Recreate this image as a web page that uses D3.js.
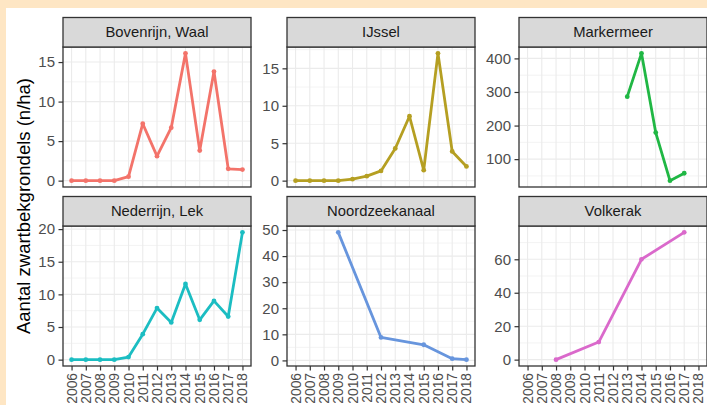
<!DOCTYPE html>
<html>
<head>
<meta charset="utf-8">
<script src="https://cdn.jsdelivr.net/npm/d3@7"></script>
<style>
  html, body { margin: 0; padding: 0; background: #FEE6C4; }
  svg { display: block; }
  text { font-family: "Liberation Sans", Arial, sans-serif; }
</style>
</head>
<body>
<svg id="chart" width="707" height="405"></svg>
<script>
// ---- data ----
const years = ["2006","2007","2008","2009","2010","2011","2012","2013","2014","2015","2016","2017","2018"];
const regions = ["Bovenrijn, Waal","IJssel","Markermeer","Nederrijn, Lek","Noordzeekanaal","Volkerak"];
const colors = ["#F3736A","#B59F22","#20B744","#1BBDC2","#6795DD","#DA69CB"];
const bovenrijnWaal  = [0, 0, 0, 0, 0.5, 7.2, 3.1, 6.7, 16.1, 3.8, 13.8, 1.5, 1.4];
const ijssel         = [0, 0, 0, 0, 0.2, 0.6, 1.3, 4.3, 8.6, 1.4, 17.0, 3.9, 1.9];
const markermeer     = [null, null, null, null, null, null, null, 286, 415, 179, 36, 58, null];
const nederrijnLek   = [0, 0, 0, 0, 0.4, 3.9, 7.9, 5.7, 11.6, 6.1, 9.0, 6.6, 19.5];
const noordzeekanaal = [null, null, null, 49.1, null, null, 8.8, null, null, 6.0, null, 0.65, 0.3];
const volkerak       = [null, null, 0, null, null, 10.5, null, null, 60, null, null, 76.1, null];
const yTicks = [[0,5,10,15],[0,5,10,15],[100,200,300,400],[0,5,10,15,20],[0,10,20,30,40,50],[0,20,40,60]];
const yTitle = "Aantal zwartbekgrondels (n/ha)";

const series = [bovenrijnWaal, ijssel, markermeer, nederrijnLek, noordzeekanaal, volkerak];

// ---- layout ----
const W = 707, H = 405;
const colLeft = [63, 287, 519];
const panelW = 188;
const panelTop = [47, 226];
const panelH = 140;
const stripH = 29.5;

const svg = d3.select("#chart");
svg.append("rect").attr("x", 6).attr("y", 8).attr("width", W - 6).attr("height", H - 8).attr("fill", "#FFFFFF");

regions.forEach((name, i) => {
  const col = i % 3, row = Math.floor(i / 3);
  const x0 = colLeft[col], y0 = panelTop[row];
  const vals = series[i];
  const pts = years.map((yr, k) => ({ yr, v: vals[k] })).filter(d => d.v !== null);

  const x = d3.scalePoint().domain(years).range([x0, x0 + panelW]).padding(0.6);
  const ext = d3.extent(pts, d => d.v);
  const pad = (ext[1] - ext[0]) * 0.05;
  const y = d3.scaleLinear().domain([ext[0] - pad, ext[1] + pad]).range([y0 + panelH, y0]);

  const g = svg.append("g");
  g.append("rect").attr("x", x0).attr("y", y0).attr("width", panelW).attr("height", panelH).attr("fill", "#FFFFFF");

  // minor horizontal grid
  const maj = yTicks[i];
  const step = maj[1] - maj[0];
  const minor = [maj[0] - step / 2].concat(maj.map(t => t + step / 2))
    .filter(t => t > y.domain()[0] && t < y.domain()[1]);
  g.selectAll(".minor").data(minor).enter().append("line")
    .attr("x1", x0).attr("x2", x0 + panelW)
    .attr("y1", d => y(d)).attr("y2", d => y(d))
    .attr("stroke", "#EBEBEB").attr("stroke-width", 0.6);
  // major grid
  g.selectAll(".majh").data(maj).enter().append("line")
    .attr("x1", x0).attr("x2", x0 + panelW)
    .attr("y1", d => y(d)).attr("y2", d => y(d))
    .attr("stroke", "#EBEBEB").attr("stroke-width", 1.1);
  g.selectAll(".majv").data(years).enter().append("line")
    .attr("y1", y0).attr("y2", y0 + panelH)
    .attr("x1", d => x(d)).attr("x2", d => x(d))
    .attr("stroke", "#EBEBEB").attr("stroke-width", 1.1);

  // line + points
  const line = d3.line().x(d => x(d.yr)).y(d => y(d.v));
  g.append("path").datum(pts).attr("d", line)
    .attr("fill", "none").attr("stroke", colors[i]).attr("stroke-width", 2.8)
    .attr("stroke-linejoin", "round");
  g.selectAll(".pt").data(pts).enter().append("circle")
    .attr("cx", d => x(d.yr)).attr("cy", d => y(d.v)).attr("r", 2.4)
    .attr("fill", colors[i]);

  // panel border
  g.append("rect").attr("x", x0).attr("y", y0).attr("width", panelW).attr("height", panelH)
    .attr("fill", "none").attr("stroke", "#333333").attr("stroke-width", 1.3);

  // strip
  g.append("rect").attr("x", x0).attr("y", y0 - stripH).attr("width", panelW).attr("height", stripH)
    .attr("fill", "#D9D9D9").attr("stroke", "#333333").attr("stroke-width", 1.3);
  g.append("text").attr("x", x0 + panelW / 2).attr("y", y0 - stripH / 2)
    .attr("text-anchor", "middle").attr("dominant-baseline", "central")
    .attr("font-size", 14.8).attr("fill", "#1A1A1A").text(name);

  // y axis
  const yAxis = d3.axisLeft(y).tickValues(maj).tickSize(4.5).tickPadding(3.5);
  const ya = g.append("g").attr("transform", `translate(${x0},0)`).call(yAxis);
  ya.select(".domain").remove();
  ya.selectAll(".tick line").attr("stroke", "#333333").attr("stroke-width", 1.2);
  ya.selectAll(".tick text").attr("font-size", 15).attr("fill", "#4D4D4D")
    .attr("font-family", "Liberation Sans, Arial, sans-serif");

  // x axis (bottom row only)
  if (row === 1) {
    const xAxis = d3.axisBottom(x).tickSize(4.5).tickPadding(3);
    const xa = g.append("g").attr("transform", `translate(0,${y0 + panelH})`).call(xAxis);
    xa.select(".domain").remove();
    xa.selectAll(".tick line").attr("stroke", "#333333").attr("stroke-width", 1.2);
    xa.selectAll(".tick text")
      .attr("font-size", 13.8).attr("fill", "#4D4D4D")
      .attr("font-family", "Liberation Sans, Arial, sans-serif")
      .attr("text-anchor", "end").attr("dy", null).attr("y", 0)
      .attr("dominant-baseline", "central")
      .attr("transform", "translate(0,7) rotate(-90)");
  }
});

// y title
svg.append("text")
  .attr("transform", "translate(30,206) rotate(-90)")
  .attr("text-anchor", "middle")
  .attr("font-size", 18.5).attr("fill", "#000000")
  .text(yTitle);
</script>
</body>
</html>
